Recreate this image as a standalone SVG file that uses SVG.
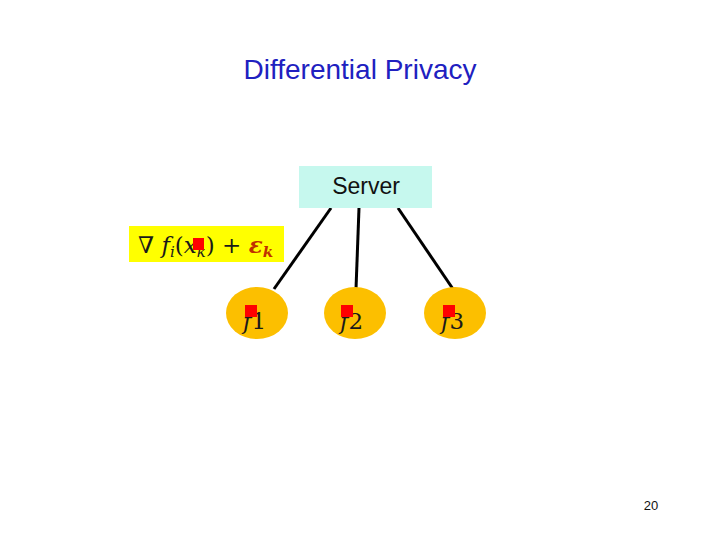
<svg xmlns="http://www.w3.org/2000/svg" width="720" height="540" viewBox="0 0 720 540">
<style>
.node{fill:#fcbf00}
.math{font-family:"DejaVu Serif","Liberation Serif",serif;font-style:italic;font-size:23px;fill:#1a1a1a}
.red{fill:#ff0000}
.conn{stroke:#000;stroke-width:3;fill:none}
</style>
<rect width="720" height="540" fill="#fff"/>
<text x="360" y="79" text-anchor="middle" font-family="Liberation Sans, Arial, sans-serif" font-size="28" fill="#2020c0">Differential Privacy</text>
<g id="connectors">
<line class="conn" x1="331" y1="208" x2="274" y2="289"/>
<line class="conn" x1="359" y1="208" x2="356" y2="289"/>
<line class="conn" x1="398" y1="208" x2="453" y2="289"/>
</g>
<g id="server">
<rect x="299" y="166" width="133" height="42" fill="#c6f8ee"/>
<text x="366" y="194" text-anchor="middle" font-family="Liberation Sans, Arial, sans-serif" font-size="23" fill="#111">Server</text>
</g>
<g id="gradient">
<rect x="129" y="226" width="155" height="36" fill="#ffff00"/>
<text x="138" y="253" class="math" font-size="22">∇ <tspan>f</tspan><tspan font-size="15" dy="4">i</tspan><tspan dy="-4" font-style="normal">(</tspan><tspan>x</tspan><tspan font-size="15" dy="4">k</tspan><tspan dy="-4" font-style="normal">) + </tspan><tspan fill="#c03000" font-weight="bold">ε</tspan><tspan fill="#c03000" font-weight="bold" font-size="15" dy="4">k</tspan></text>
<rect class="red" x="193" y="238" width="11" height="12"/>
</g>
<g id="f1">
<ellipse class="node" cx="257" cy="313" rx="31" ry="26"/>
<text x="243" y="329" class="math">f<tspan font-style="normal">1</tspan></text>
<rect class="red" x="245" y="305" width="12" height="12"/>
</g>
<g id="f2">
<ellipse class="node" cx="355" cy="313" rx="31" ry="26"/>
<text x="340" y="329" class="math">f<tspan font-style="normal">2</tspan></text>
<rect class="red" x="341" y="305" width="12" height="12"/>
</g>
<g id="f3">
<ellipse class="node" cx="455" cy="313" rx="31" ry="26"/>
<text x="441" y="329" class="math">f<tspan font-style="normal">3</tspan></text>
<rect class="red" x="443" y="305" width="12" height="12"/>
</g>
<text x="651" y="510" text-anchor="middle" font-family="Liberation Sans, Arial, sans-serif" font-size="13" fill="#111">20</text>
</svg>
